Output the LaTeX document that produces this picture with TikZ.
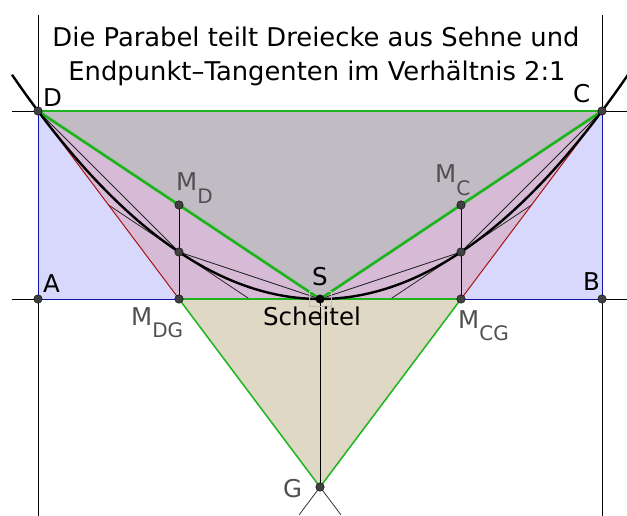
\documentclass[tikz,border=0pt]{standalone}
\usepackage{fontspec}
\setmainfont{DejaVu Sans}
\usetikzlibrary{calc}
\definecolor{ggreen}{RGB}{30,180,30}
\definecolor{gred}{RGB}{170,20,20}
\definecolor{gblue}{RGB}{20,20,170}
\definecolor{fillblue}{RGB}{216,216,252}
\definecolor{fillpurple}{RGB}{214,186,214}
\definecolor{fillgray}{RGB}{193,187,196}
\definecolor{filltan}{RGB}{222,216,196}
\definecolor{lblgray}{RGB}{80,80,80}
\newcommand{\lbsub}[2]{#1\raisebox{-0.5em}{\fontsize{20}{20}\selectfont #2}}

\begin{document}
\begin{tikzpicture}[x=1pt,y=-1pt,
  dot/.style={circle,draw=black,fill=black!75,inner sep=0pt,minimum size=8.5pt},
  lbl/.style={font=\fontsize{24.5}{24.5}\selectfont,inner sep=0pt,anchor=base west},
  ttl/.style={font=\fontsize{25.8}{25.8}\selectfont,inner sep=0pt,anchor=base},
  thinline/.style={black,line width=0.9pt},
  greenthick/.style={ggreen,line width=2.7pt},
  greenthin/.style={ggreen,line width=1.5pt}
]
  \useasboundingbox (0,0) rectangle (627,516);
  % Punkte
  \coordinate (D) at (38,111);
  \coordinate (C) at (602,111);
  \coordinate (A) at (38,299);
  \coordinate (B) at (602,299);
  \coordinate (S) at (320,299);
  \coordinate (G) at (320,487);
  \coordinate (MDG) at (179,299);
  \coordinate (MCG) at (461,299);
  \coordinate (MD) at (179,205);
  \coordinate (MC) at (461,205);
  \coordinate (PD) at (179,252);
  \coordinate (PC) at (461,252);
  \coordinate (TD1) at (108.5,205);
  \coordinate (TD2) at (249.5,299);
  \coordinate (TC1) at (531.5,205);
  \coordinate (TC2) at (390.5,299);
  \coordinate (GL) at ($(C)!1.074!(G)$);
  \coordinate (GR) at ($(D)!1.074!(G)$);
  % Flaechen
  \fill[fillblue] (A) rectangle (C);
  \fill[fillpurple] (D) -- (MDG) -- (S) -- cycle;
  \fill[fillpurple] (C) -- (MCG) -- (S) -- cycle;
  \fill[fillgray] (D) -- (C) -- (S) -- cycle;
  \fill[filltan] (MDG) -- (MCG) -- (G) -- cycle;
  % Hilfslinien
  \draw[thinline] (38,15) -- (38,516);
  \draw[thinline] (602,15) -- (602,516);
  \draw[thinline] (12,111) -- (627,111);
  \draw[thinline] (12,299) -- (627,299);
  \draw[gblue,line width=0.9pt] (A) rectangle (C);
  \draw[black!80,line width=0.8pt] (G) -- (GL);
  \draw[black!80,line width=0.8pt] (G) -- (GR);
  % Sehnen und Tangenten
  \draw[black!85,line width=0.8pt] (D) -- (PD) -- (S) -- (PC) -- (C);
  \draw[black!85,line width=0.8pt] (TD1) -- (TD2);
  \draw[black!85,line width=0.8pt] (TC1) -- (TC2);
  \draw[gred,line width=1pt] (D) -- (MDG);
  \draw[gred,line width=1pt] (C) -- (MCG);
  \draw[greenthin] (MDG) -- (G) -- (MCG);
  \draw[greenthin] (D) -- (C);
  \draw[greenthick] (D) -- (S) -- (C);
  \draw[greenthick] (MDG) -- (MCG);
  \draw[thinline] (MD) -- (MDG);
  \draw[thinline] (MC) -- (MCG);
  \draw[thinline] (S) -- (G);
  % Parabel
  \draw[black,line width=2.4pt,domain=12:628,samples=120,smooth]
    plot (\x,{299-188*((\x-320)/282)^2});
  \draw[black!25,line width=0.6pt] (309,291) rectangle (331,306);
  % Punktmarken
  \node[dot] (dotD) at (D) {};
  \node[dot] (dotC) at (C) {};
  \node[dot] (dotA) at (A) {};
  \node[dot] (dotB) at (B) {};
  \node[dot,fill=black] (dotS) at (S) {};
  \node[dot] (dotG) at (G) {};
  \node[dot] (dotMDG) at (MDG) {};
  \node[dot] (dotMCG) at (MCG) {};
  \node[dot] (dotMD) at (MD) {};
  \node[dot] (dotMC) at (MC) {};
  \node[dot] (dotPD) at (PD) {};
  \node[dot] (dotPC) at (PC) {};
  % Beschriftung
  \node[ttl] (title1) at (316,47) {Die Parabel teilt Dreiecke aus Sehne und};
  \node[ttl] (title2) at (317,81) {Endpunkt--Tangenten im Verhältnis 2:1};
  \node[lbl] (lD) at (43,107) {D};
  \node[lbl] (lC) at (573,103) {C};
  \node[lbl] (lA) at (43,292) {A};
  \node[lbl] (lB) at (583,290) {B};
  \node[lbl] (lS) at (312,285) {S};
  \node[lbl,anchor=base] (lScheitel) at (312,325) {Scheitel};
  \node[lbl,lblgray] (lMD) at (176,191) {\lbsub{M}{D}};
  \node[lbl,lblgray] (lMC) at (435,183) {\lbsub{M}{C}};
  \node[lbl,lblgray] (lMDG) at (131,325) {\lbsub{M}{DG}};
  \node[lbl,lblgray] (lMCG) at (458,328) {\lbsub{M}{CG}};
  \node[lbl,lblgray] (lG) at (283,497) {G};
\end{tikzpicture}
\end{document}
